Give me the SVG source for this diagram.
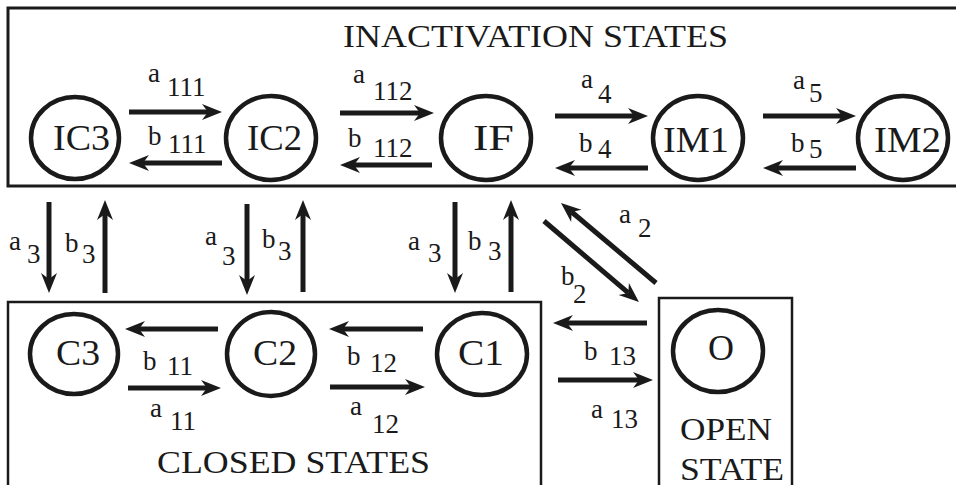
<svg xmlns="http://www.w3.org/2000/svg" width="956" height="485" viewBox="0 0 956 485" font-family="Liberation Serif, Times New Roman, Tinos, Nimbus Roman, Noto Serif, DejaVu Serif, serif">
<style>
.box{fill:none;stroke:#1a1a1a}
.node{fill:#fff;stroke:#1a1a1a;stroke-width:4.5}
text{fill:#1a1a1a}
.nl{font-size:36px}
.ttl{font-size:32px}
.lb{font-size:27px}
.ar{stroke:#1a1a1a;stroke-width:5;fill:none;marker-end:url(#ah)}
</style>
<defs>
<marker id="ah" markerUnits="userSpaceOnUse" markerWidth="22" markerHeight="18" viewBox="0 -9 22 18" refX="6" refY="0" orient="auto">
<path d="M20,0 L0,-8 L6,0 L0,8 Z" fill="#1a1a1a"/>
</marker>
</defs>
<rect width="956" height="485" fill="#fff"/>
<g id="inactivation-box">
<rect class="box" x="8" y="8" width="960" height="178" stroke-width="3"/>
<text class="ttl" x="343" y="47" textLength="385" lengthAdjust="spacingAndGlyphs">INACTIVATION STATES</text>
</g>
<g id="closed-box">
<rect class="box" x="8" y="302" width="533" height="200" stroke-width="2.5"/>
<text class="ttl" x="157" y="473" textLength="273" lengthAdjust="spacingAndGlyphs">CLOSED STATES</text>
</g>
<g id="open-box">
<rect class="box" x="659" y="298" width="133" height="200" stroke-width="2.5"/>
<text class="ttl" x="680" y="440" textLength="92" lengthAdjust="spacingAndGlyphs">OPEN</text>
<text class="ttl" x="680" y="480" textLength="104" lengthAdjust="spacingAndGlyphs">STATE</text>
</g>
<g id="IC3"><ellipse class="node" cx="75" cy="138" rx="44" ry="41"/><text class="nl" x="53" y="150" textLength="57" lengthAdjust="spacingAndGlyphs">IC3</text></g>
<g id="IC2"><ellipse class="node" cx="271" cy="138" rx="45" ry="42"/><text class="nl" x="247" y="150" textLength="55" lengthAdjust="spacingAndGlyphs">IC2</text></g>
<g id="IF"><ellipse class="node" cx="486" cy="138" rx="45" ry="42"/><text class="nl" x="473" y="150" textLength="41" lengthAdjust="spacingAndGlyphs">IF</text></g>
<g id="IM1"><ellipse class="node" cx="698" cy="138" rx="45" ry="42"/><text class="nl" x="663" y="152" textLength="66" lengthAdjust="spacingAndGlyphs">IM1</text></g>
<g id="IM2"><ellipse class="node" cx="903" cy="138" rx="45" ry="42"/><text class="nl" x="874" y="152" textLength="67" lengthAdjust="spacingAndGlyphs">IM2</text></g>
<g id="C3"><ellipse class="node" cx="74" cy="354" rx="44" ry="40"/><text class="nl" x="56" y="365" textLength="44" lengthAdjust="spacingAndGlyphs">C3</text></g>
<g id="C2"><ellipse class="node" cx="271" cy="354" rx="44" ry="42"/><text class="nl" x="253" y="365" textLength="44" lengthAdjust="spacingAndGlyphs">C2</text></g>
<g id="C1"><ellipse class="node" cx="482" cy="354" rx="45" ry="41"/><text class="nl" x="458" y="365" textLength="46" lengthAdjust="spacingAndGlyphs">C1</text></g>
<g id="O"><ellipse class="node" cx="718" cy="351" rx="45" ry="41"/><text class="nl" x="708" y="360" textLength="26" lengthAdjust="spacingAndGlyphs">O</text></g>
<g id="connectors">
<line class="ar" x1="129" y1="112" x2="208" y2="112"/>
<line class="ar" x1="222" y1="163" x2="143" y2="163"/>
<line class="ar" x1="340" y1="113" x2="420" y2="113"/>
<line class="ar" x1="432" y1="165" x2="354" y2="165"/>
<line class="ar" x1="555" y1="116" x2="634" y2="116"/>
<line class="ar" x1="648" y1="168" x2="569" y2="168"/>
<line class="ar" x1="763" y1="116" x2="842" y2="116"/>
<line class="ar" x1="856" y1="168" x2="777" y2="168"/>
<line class="ar" x1="49" y1="202" x2="49" y2="279"/>
<line class="ar" x1="105" y1="293" x2="105" y2="214"/>
<line class="ar" x1="247" y1="204" x2="247" y2="281"/>
<line class="ar" x1="303" y1="292" x2="303" y2="214"/>
<line class="ar" x1="455" y1="202" x2="455" y2="279"/>
<line class="ar" x1="511" y1="292" x2="511" y2="214"/>
<line class="ar" x1="544" y1="221" x2="628.3" y2="292.9"/>
<line class="ar" x1="656" y1="283" x2="571.7" y2="212"/>
<line class="ar" x1="218" y1="329" x2="139" y2="329"/>
<line class="ar" x1="128" y1="388" x2="207" y2="388"/>
<line class="ar" x1="423" y1="329" x2="343" y2="329"/>
<line class="ar" x1="330" y1="387" x2="411" y2="387"/>
<line class="ar" x1="647" y1="323" x2="567" y2="323"/>
<line class="ar" x1="558" y1="380" x2="639" y2="380"/>
<text class="lb"><tspan x="148" y="82">a</tspan><tspan x="167" y="96">111</tspan></text>
<text class="lb"><tspan x="148" y="145">b</tspan><tspan x="168" y="153">111</tspan></text>
<text class="lb"><tspan x="353" y="83">a</tspan><tspan x="373" y="100">112</tspan></text>
<text class="lb"><tspan x="348" y="147">b</tspan><tspan x="373" y="157">112</tspan></text>
<text class="lb"><tspan x="581" y="88">a</tspan><tspan x="598" y="103">4</tspan></text>
<text class="lb"><tspan x="579" y="152">b</tspan><tspan x="598" y="158">4</tspan></text>
<text class="lb"><tspan x="793" y="89">a</tspan><tspan x="809" y="102">5</tspan></text>
<text class="lb"><tspan x="791" y="152">b</tspan><tspan x="809" y="158">5</tspan></text>
<text class="lb"><tspan x="9" y="250">a</tspan><tspan x="27" y="263">3</tspan></text>
<text class="lb"><tspan x="65" y="252">b</tspan><tspan x="82" y="263">3</tspan></text>
<text class="lb"><tspan x="205" y="245">a</tspan><tspan x="222" y="265">3</tspan></text>
<text class="lb"><tspan x="262" y="248">b</tspan><tspan x="278" y="260">3</tspan></text>
<text class="lb"><tspan x="408" y="250">a</tspan><tspan x="428" y="262">3</tspan></text>
<text class="lb"><tspan x="468" y="250">b</tspan><tspan x="488" y="260">3</tspan></text>
<text class="lb"><tspan x="619" y="223">a</tspan><tspan x="638" y="237">2</tspan></text>
<text class="lb"><tspan x="561" y="285">b</tspan><tspan x="573" y="303">2</tspan></text>
<text class="lb"><tspan x="143" y="370">b</tspan><tspan x="167" y="375">11</tspan></text>
<text class="lb"><tspan x="150" y="417">a</tspan><tspan x="170" y="430">11</tspan></text>
<text class="lb"><tspan x="347" y="365">b</tspan><tspan x="370" y="372">12</tspan></text>
<text class="lb"><tspan x="350" y="415">a</tspan><tspan x="372" y="433">12</tspan></text>
<text class="lb"><tspan x="584" y="360">b</tspan><tspan x="609" y="365">13</tspan></text>
<text class="lb"><tspan x="591" y="418">a</tspan><tspan x="611" y="428">13</tspan></text>
</g>
</svg>
